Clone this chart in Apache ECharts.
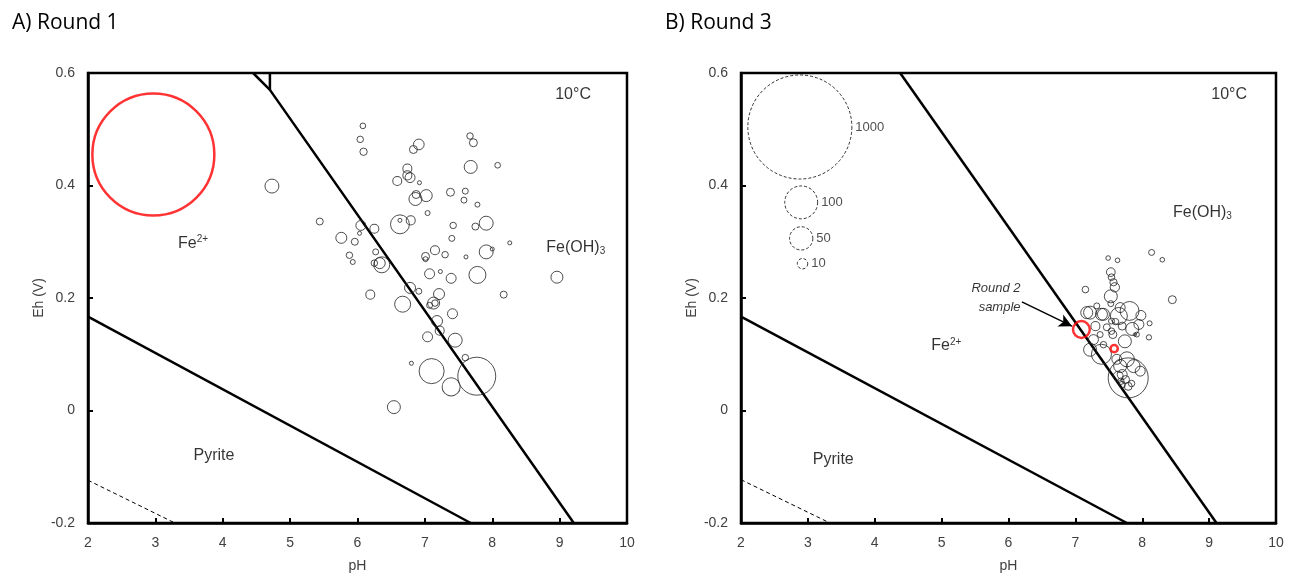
<!DOCTYPE html>
<html><head><meta charset="utf-8">
<script src="https://cdn.jsdelivr.net/npm/echarts@6/dist/echarts.min.js"></script>
<style>html,body{margin:0;padding:0;background:#fff}#c{width:1289px;height:579px}</style>
</head><body><div id="c"></div>
<script>
// ---- Data ----
const xTicks = [2, 3, 4, 5, 6, 7, 8, 9, 10];
const yTicks = [-0.2, 0, 0.2, 0.4, 0.6];

// Round 1 samples: [pH, Eh (V), concentration]
const round1 = [
  [6.08,0.506,3],[6.04,0.482,3.9],[6.09,0.460,5],[6.83,0.464,5.9],[6.91,0.473,10.6],
  [7.67,0.488,3.9],[7.72,0.476,5.9],[7.68,0.433,15.6],[8.08,0.436,3],[6.74,0.430,7.5],
  [6.74,0.418,7.5],[6.78,0.414,9.2],[6.59,0.408,7.5],[6.92,0.405,1.5],[7.02,0.382,13.3],
  [6.86,0.376,15.6],[6.87,0.384,5.9],[7.38,0.388,5.9],[7.60,0.390,3.3],[7.58,0.374,3.3],
  [7.78,0.366,2.3],[7.04,0.351,2.3],[4.73,0.399,18],[5.44,0.336,4.5],[6.05,0.329,9.2],
  [6.25,0.323,7.5],[6.03,0.315,1.5],[5.76,0.307,11.2],[5.96,0.300,4.5],[6.63,0.331,33],
  [6.63,0.338,1.5],[6.79,0.338,7.5],[7.42,0.329,3.9],[7.75,0.327,4.5],[7.91,0.333,18],
  [7.40,0.306,3.3],[8.26,0.298,1.5],[7.15,0.285,7.5],[7.91,0.282,18],[8.00,0.287,1.5],
  [7.30,0.277,3.9],[7.61,0.273,1.5],[7.01,0.274,5.9],[7.01,0.269,2.3],[5.88,0.276,3.9],
  [5.93,0.264,2.3],[6.27,0.282,3.3],[6.25,0.262,3.9],[6.33,0.262,11.2],[6.36,0.259,23.6],
  [7.07,0.243,9.2],[7.23,0.247,1.5],[7.39,0.235,9.2],[7.78,0.241,26.7],[8.96,0.237,13.3],
  [6.78,0.218,11.2],[6.91,0.212,3.3],[6.19,0.206,7.5],[7.21,0.207,11.2],[8.17,0.206,4.5],
  [6.67,0.189,23.6],[7.13,0.191,13.3],[7.15,0.191,3.9],[7.07,0.187,3.3],[7.41,0.172,9.2],
  [7.18,0.159,11.2],[7.22,0.142,7.5],[7.04,0.131,9.2],[7.45,0.125,18],[7.60,0.094,3.9],
  [6.80,0.084,1.5],[7.10,0.070,58],[7.39,0.042,30],[7.77,0.061,133],[6.54,0.006,15.6]
];
const round1Highlight = [[2.97,0.455,1375]];

// Round 3 samples: [pH, Eh (V), concentration]
const round3 = [
  [7.49,0.271,2],[7.63,0.267,2],[8.14,0.281,3.3],[8.30,0.268,2],[7.53,0.246,7],
  [7.54,0.237,4.1],[7.57,0.228,4.9],[7.59,0.219,8],[7.15,0.215,4.1],[8.45,0.197,5.9],
  [7.53,0.203,15.6],[7.53,0.190,3.3],[7.32,0.186,3.3],[7.17,0.174,13.3],[7.22,0.174,15.6],
  [7.42,0.171,13.3],[7.39,0.171,13.3],[7.67,0.183,9.2],[7.81,0.177,33],[7.65,0.168,26.7],
  [7.98,0.169,9.2],[7.54,0.159,3.3],[7.60,0.158,3.9],[7.95,0.153,9.2],[8.11,0.155,2.3],
  [8.10,0.130,2.6],[7.89,0.135,1],[7.56,0.135,5.9],[7.37,0.135,3.3],[7.27,0.126,9.2],
  [7.74,0.123,15.6],[7.42,0.117,3.9],[7.22,0.108,15.6],[7.39,0.100,37],[7.77,0.091,20.8],
  [7.62,0.091,9.2],[7.67,0.079,15.6],[7.87,0.079,15.6],[7.97,0.070,9.2],[7.79,0.058,148],
  [7.70,0.064,9.2],[7.75,0.055,5.9],[7.68,0.052,3.9],[7.84,0.048,3.9],[7.70,0.046,3.9],
  [7.79,0.043,5.9],[7.64,0.061,9.2],[7.92,0.135,2.3],[7.54,0.141,3.9],[7.30,0.150,7.5],
  [7.47,0.148,4.5],[7.85,0.145,15.6],[7.70,0.150,5.9]
];
const round3Highlight = [[7.09,0.144,26],[7.58,0.110,4.9]];

// Bubble size legend: [pH, Eh, concentration]
const sizeLegend = [[2.88,0.504,1000],[2.90,0.370,100],[2.90,0.306,50],[2.92,0.261,10]];

// Stability field boundaries: [pH, Eh]
const boundMainA = [[4.45,0.6],[4.70,0.57],[9.21,-0.2]];
const boundTickA = [[4.70,0.6],[4.70,0.57]];
const boundLowA = [[2,0.167],[7.68,-0.2]];
const boundDashA = [[2,-0.124],[3.29,-0.2]];
const boundMainB = [[4.38,0.6],[9.11,-0.2]];
const boundLowB = [[2,0.167],[7.77,-0.2]];
const boundDashB = [[2,-0.123],[3.33,-0.2]];

// Field labels: [pH, Eh, text]
const labelsA = [[3.56,0.297,'{n|Fe}{sup|2+}'],[9.24,0.290,'{n|Fe(OH)}{sub|3}'],[3.87,-0.080,'{n|Pyrite}'],[9.2,0.562,'{n|10°C}']];
const labelsB = [[9.3,0.562,'{n|10°C}'],[8.9,0.352,'{n|Fe(OH)}{sub|3}'],[5.07,0.115,'{n|Fe}{sup|2+}'],[3.38,-0.087,'{n|Pyrite}']];
const arrowB = [[6.20,0.193],[6.95,0.150]];
const arrowText = [[6.18,0.200,'Round 2\nsample']];

// ---- Chart ----
const K = 3.29;
const sz = v => K * Math.sqrt(v[2]);
const FONT = 'Liberation Sans, Arial, sans-serif';
const chart = echarts.init(document.getElementById('c'), null, {renderer:'canvas'});

function xAxis(i){
  return {gridIndex:i, type:'value', min:2, max:10, interval:1, name:'pH', nameLocation:'middle', nameGap:36,
    nameTextStyle:{fontFamily:FONT, fontSize:14, color:'#404040'},
    axisLine:{show:true, onZero:false, lineStyle:{color:'#000', width:2.5}},
    axisTick:{show:true, inside:true, length:5, lineStyle:{color:'#000', width:2}},
    axisLabel:{fontFamily:FONT, fontSize:14, color:'#404040', margin:13},
    splitLine:{show:false}};
}
function yAxis(i){
  return {gridIndex:i, type:'value', min:-0.2, max:0.6, interval:0.2, name:'Eh (V)', nameLocation:'middle', nameGap:42,
    nameTextStyle:{fontFamily:FONT, fontSize:14, color:'#404040'},
    axisLine:{show:true, onZero:false, lineStyle:{color:'#000', width:2.5}},
    axisTick:{show:true, inside:true, length:5, lineStyle:{color:'#000', width:2}},
    axisLabel:{fontFamily:FONT, fontSize:14, color:'#404040', margin:13, formatter: v => (Math.abs(v)<1e-9?'0':String(Math.round(v*10)/10))},
    splitLine:{show:false}};
}
function line(data, i, opts){
  return Object.assign({type:'line', xAxisIndex:i, yAxisIndex:i, data:data, symbol:'none', silent:true,
    lineStyle:{color:'#000', width:2.5}, z:3, animation:false}, opts||{});
}
function bubbles(data, i, color, width, dashed, z){
  return {type:'scatter', xAxisIndex:i, yAxisIndex:i, data:data, symbol:'circle', symbolSize:sz,
    itemStyle:{color:'rgba(0,0,0,0)', borderColor:color, borderWidth:width, borderType: dashed?[3,2]:'solid'},
    z:z||4, animation:false, silent:true};
}
const rich = {
  n:{fontFamily:FONT, fontSize:16, color:'#000'},
  sup:{fontFamily:FONT, fontSize:10, color:'#000', verticalAlign:'top', padding:[0,0,8,0]},
  sub:{fontFamily:FONT, fontSize:10, color:'#000', verticalAlign:'bottom', padding:[8,0,0,0]}
};
function texts(data, i){
  return {type:'scatter', xAxisIndex:i, yAxisIndex:i, data:data, symbolSize:0, silent:true, animation:false,
    label:{show:true, position:'inside', formatter:p=>p.data[2], rich:rich}, z:6};
}

chart.setOption({
  backgroundColor:'#fff',
  title:[
    {text:'A) Round 1', left:7, top:8, textStyle:{fontFamily:'Open Sans', fontSize:21, fontWeight:'normal', color:'#000'}},
    {text:'B) Round 3', left:660, top:8, textStyle:{fontFamily:'Open Sans', fontSize:21, fontWeight:'normal', color:'#000'}}
  ],
  grid:[
    {left:88, top:73, width:539, height:450, show:true, borderColor:'#000', borderWidth:2.5, backgroundColor:'transparent'},
    {left:741, top:73, width:535, height:450, show:true, borderColor:'#000', borderWidth:2.5, backgroundColor:'transparent'}
  ],
  xAxis:[xAxis(0), xAxis(1)],
  yAxis:[yAxis(0), yAxis(1)],
  series:[
    line(boundMainA,0), line(boundTickA,0), line(boundLowA,0),
    line(boundDashA,0,{lineStyle:{color:'#000', width:1, type:[4,3]}}),
    bubbles(round1,0,'#222',1),
    bubbles(round1Highlight,0,'#ff0000',2.5,false,5),
    texts(labelsA,0),
    line(boundMainB,1), line(boundLowB,1),
    line(boundDashB,1,{lineStyle:{color:'#000', width:1, type:[4,3]}}),
    bubbles(round3,1,'#222',1),
    bubbles(round3Highlight,1,'#ff0000',2.5,false,5),
    Object.assign(bubbles(sizeLegend,1,'#000',1,true),{
      label:{show:true, position:'right', distance:3, formatter:p=>String(p.data[2]), fontFamily:FONT, fontSize:13, color:'#222'}}),
    texts(labelsB,1),
    {type:'scatter', xAxisIndex:1, yAxisIndex:1, data:arrowText, symbolSize:0, silent:true, animation:false,
      label:{show:true, position:'left', distance:0, formatter:p=>p.data[2], fontFamily:FONT, fontSize:13, fontStyle:'italic', color:'#000', align:'right', lineHeight:19}, z:6,
      markLine:{silent:true, animation:false, symbol:['none','arrow'], symbolSize:[10,13], label:{show:false},
        lineStyle:{color:'#000', width:1.5, type:'solid'},
        data:[[{coord:arrowB[0]},{coord:arrowB[1]}]]}}
  ]
});
</script></body></html>
